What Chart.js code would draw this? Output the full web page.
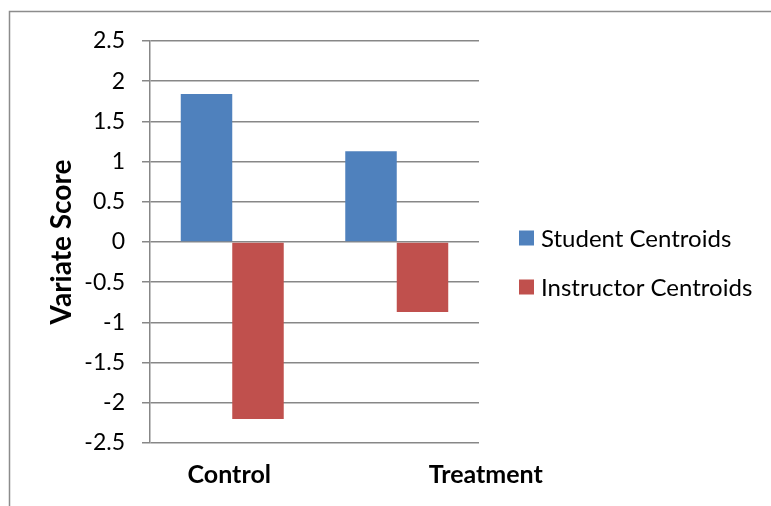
<!DOCTYPE html>
<html>
<head>
<meta charset="utf-8">
<script src="https://cdn.jsdelivr.net/npm/chart.js@4/dist/chart.umd.min.js"></script>
<style>
  html, body { margin: 0; padding: 0; background: #fff; }
  #c { display: block; }
</style>
</head>
<body>
<canvas id="c" width="771" height="506"></canvas>
<script>
// Group labels along the horizontal axis
const categories = ['Control', 'Treatment'];

// Discriminant variate centroids per group
const studentCentroids = [1.84, 1.13];
const instructorCentroids = [-2.2, -0.87];

// Series names
const seriesNames = ['Student Centroids', 'Instructor Centroids'];

// Value axis tick labels
const yTicks = [2.5, 2, 1.5, 1, 0.5, 0, -0.5, -1, -1.5, -2, -2.5];

const FONT = 'Lato, "Open Sans", sans-serif';
const GRID = '#878787';

// Outer frame of the chart object (runs off the right and bottom edges)
const framePlugin = {
  id: 'frame',
  beforeDraw(chart) {
    const ctx = chart.ctx;
    ctx.save();
    ctx.strokeStyle = '#8c8c8c';
    ctx.lineWidth = 1.5;
    ctx.strokeRect(9.5, 11.5, 1000, 1000);
    ctx.restore();
  }
};

// Category captions under the plot, bold
const categoryLabelPlugin = {
  id: 'categoryLabels',
  afterDraw(chart, args, opts) {
    const ctx = chart.ctx;
    const xs = chart.scales.x;
    ctx.save();
    ctx.font = 'bold 25px ' + FONT;
    ctx.fillStyle = '#000';
    ctx.textAlign = 'center';
    ctx.textBaseline = 'middle';
    chart.data.labels.forEach((lab, i) => {
      const x = xs.getPixelForValue(i) + (opts.shift[i] || 0);
      ctx.fillText(lab, x, chart.chartArea.bottom + opts.gap);
    });
    ctx.restore();
  }
};

// Legend to the right of the plot: square swatch + series name
const sideLegendPlugin = {
  id: 'sideLegend',
  afterDraw(chart, args, opts) {
    const ctx = chart.ctx;
    ctx.save();
    ctx.font = '24px ' + FONT;
    ctx.textAlign = 'left';
    ctx.textBaseline = 'middle';
    chart.data.datasets.forEach((ds, i) => {
      const y = opts.top + i * opts.step;
      ctx.fillStyle = ds.backgroundColor;
      ctx.fillRect(opts.left, y - opts.box / 2, opts.box, opts.box);
      ctx.fillStyle = '#000';
      ctx.fillText(ds.label, opts.left + opts.box + 7, y + 1);
    });
    ctx.restore();
  }
};

new Chart(document.getElementById('c'), {
  type: 'bar',
  data: {
    labels: categories,
    datasets: [
      { label: seriesNames[0], data: studentCentroids, backgroundColor: '#4F81BD' },
      { label: seriesNames[1], data: instructorCentroids, backgroundColor: '#C0504D' }
    ]
  },
  options: {
    responsive: false,
    animation: false,
    layout: { padding: { left: 0, right: 292, top: 41, bottom: 55 } },
    datasets: { bar: { barPercentage: 1, categoryPercentage: 0.626 } },
    plugins: {
      legend: { display: false },
      tooltip: { enabled: false },
      categoryLabels: { shift: [-3, 89], gap: 32 },
      sideLegend: { left: 519, top: 238, step: 49, box: 15 }
    },
    scales: {
      x: {
        ticks: { display: false },
        grid: { display: false },
        border: { display: false }
      },
      y: {
        min: -2.5,
        max: 2.5,
        afterFit(scale) { scale.width = 150; },
        afterBuildTicks(scale) { scale.ticks = yTicks.map(v => ({ value: v })); },
        ticks: {
          color: '#000',
          font: { family: FONT, size: 23 },
          padding: 17,
          callback: v => String(v)
        },
        grid: { color: GRID, lineWidth: 1.5, tickLength: 8, tickColor: GRID },
        border: { display: true, color: GRID, width: 1.5 },
        title: {
          display: true,
          text: 'Variate Score',
          color: '#000',
          font: { family: FONT, size: 28, weight: 'bold' },
          padding: { top: 45, bottom: 0 }
        }
      }
    }
  },
  plugins: [framePlugin, categoryLabelPlugin, sideLegendPlugin]
});
</script>
</body>
</html>
